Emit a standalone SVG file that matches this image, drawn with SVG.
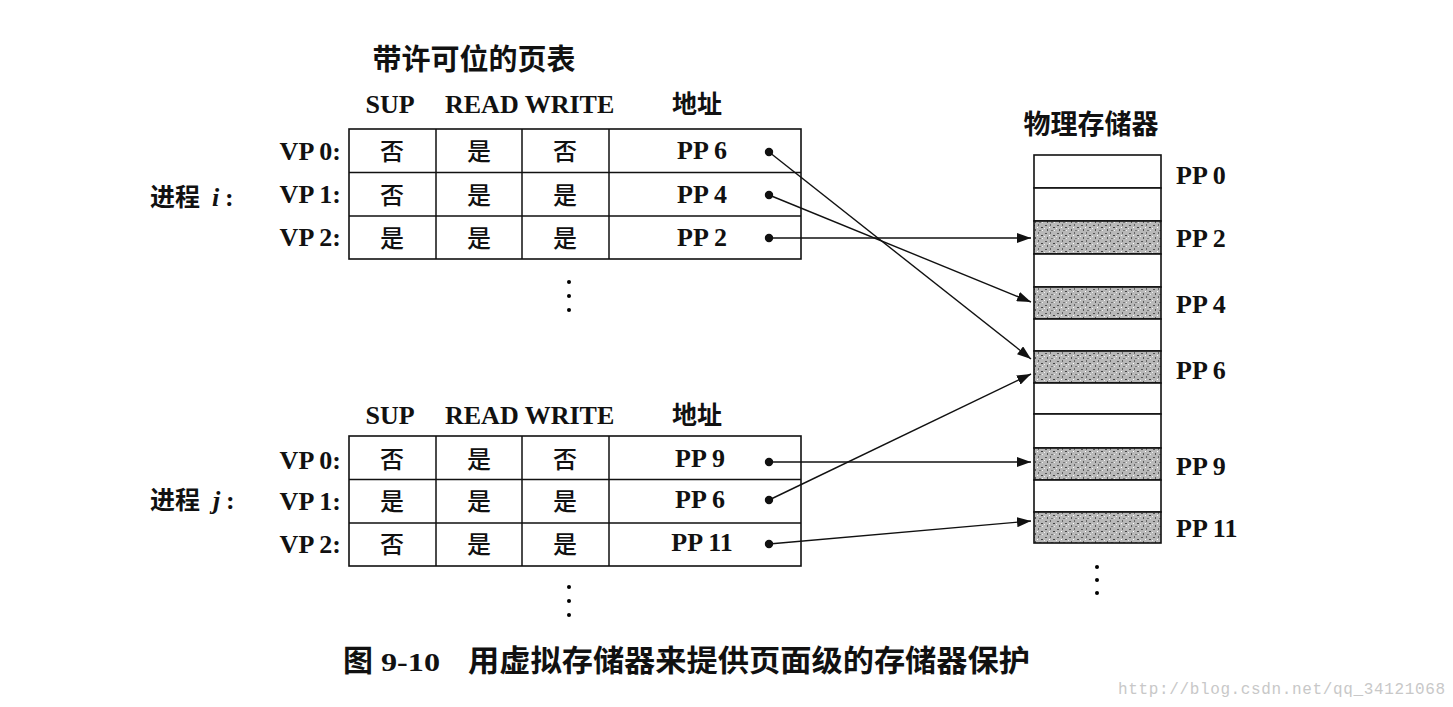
<svg xmlns="http://www.w3.org/2000/svg" width="1453" height="707" viewBox="0 0 1453 707">
<defs>
<style>
.lat{font-family:"Liberation Serif","Times New Roman",serif;font-weight:bold;font-size:26px;fill:#111}
.cjk{font-family:"Noto Sans CJK SC","Noto Sans",sans-serif;font-weight:bold;fill:#111}
.cell{font-family:"Noto Sans CJK SC",sans-serif;font-weight:500;font-size:24px;fill:#111;text-anchor:middle}
.tb{fill:#fff;stroke:#111;stroke-width:1.6}
.ln{stroke:#111;stroke-width:1.5;fill:none}
.mem{fill:#fff;stroke:#111;stroke-width:1.6}
.sh{fill:url(#stip);stroke:#111;stroke-width:1.6}
.wm{font-family:"Liberation Mono",monospace;font-size:16px;fill:#c8c8c8}
</style>
<pattern id="stip" width="12" height="8" patternUnits="userSpaceOnUse">
<rect width="12" height="8" fill="#b8b8b8"/>
<rect x="1" y="1" width="2" height="1" fill="#555"/>
<rect x="6" y="0" width="1" height="2" fill="#666"/>
<rect x="9" y="3" width="2" height="1" fill="#444"/>
<rect x="3" y="5" width="1" height="2" fill="#555"/>
<rect x="7" y="6" width="2" height="1" fill="#777"/>
<rect x="0" y="4" width="1" height="1" fill="#eee"/>
<rect x="5" y="3" width="1" height="1" fill="#fff"/>
<rect x="10" y="6" width="1" height="1" fill="#eee"/>
</pattern>
<marker id="ah" viewBox="0 0 14 10" refX="14" refY="5" markerWidth="14" markerHeight="10" markerUnits="userSpaceOnUse" orient="auto">
<path d="M0,0 L14,5 L0,10 z" fill="#111"/>
</marker>
</defs>
<rect width="1453" height="707" fill="#fff"/>

<text class="cjk" x="474" y="70" font-size="29" text-anchor="middle">带许可位的页表</text>

<g id="table-i">
<text class="lat" x="390" y="113" text-anchor="middle">SUP</text>
<text class="lat" x="445" y="113">READ WRITE</text>
<text class="cjk" x="697" y="113" font-size="25" text-anchor="middle">地址</text>
<rect class="tb" x="349" y="129" width="452" height="130"/>
<path class="ln" d="M349,172.5H801M349,216H801M436,129V259M522,129V259M609,129V259"/>
<text class="lat" x="341" y="160" text-anchor="end">VP 0:</text>
<text class="lat" x="341" y="203" text-anchor="end">VP 1:</text>
<text class="lat" x="341" y="246" text-anchor="end">VP 2:</text>
<text class="cjk" x="150" y="206" font-size="25">进程</text>
<text class="lat" x="212" y="206" font-style="italic">i</text>
<text class="lat" x="225" y="206">:</text>
<text class="cell" x="392" y="160">否</text><text class="cell" x="479" y="160">是</text><text class="cell" x="565" y="160">否</text>
<text class="cell" x="392" y="204">否</text><text class="cell" x="479" y="204">是</text><text class="cell" x="565" y="204">是</text>
<text class="cell" x="392" y="247">是</text><text class="cell" x="479" y="247">是</text><text class="cell" x="565" y="247">是</text>
<text class="lat" x="702" y="159" text-anchor="middle">PP 6</text>
<text class="lat" x="702" y="203" text-anchor="middle">PP 4</text>
<text class="lat" x="702" y="246" text-anchor="middle">PP 2</text>
<circle cx="569" cy="282" r="2"/><circle cx="569" cy="296" r="2"/><circle cx="569" cy="310" r="2"/>
</g>

<g id="table-j">
<text class="lat" x="390" y="424" text-anchor="middle">SUP</text>
<text class="lat" x="445" y="424">READ WRITE</text>
<text class="cjk" x="697" y="424" font-size="25" text-anchor="middle">地址</text>
<rect class="tb" x="349" y="436" width="452" height="130"/>
<path class="ln" d="M349,479.5H801M349,523H801M436,436V566M522,436V566M609,436V566"/>
<text class="lat" x="341" y="469" text-anchor="end">VP 0:</text>
<text class="lat" x="341" y="510" text-anchor="end">VP 1:</text>
<text class="lat" x="341" y="553" text-anchor="end">VP 2:</text>
<text class="cjk" x="150" y="509" font-size="25">进程</text>
<text class="lat" x="213" y="509" font-style="italic">j</text>
<text class="lat" x="226" y="509">:</text>
<text class="cell" x="392" y="468">否</text><text class="cell" x="479" y="468">是</text><text class="cell" x="565" y="468">否</text>
<text class="cell" x="392" y="510">是</text><text class="cell" x="479" y="510">是</text><text class="cell" x="565" y="510">是</text>
<text class="cell" x="392" y="553">否</text><text class="cell" x="479" y="553">是</text><text class="cell" x="565" y="553">是</text>
<text class="lat" x="700" y="467" text-anchor="middle">PP 9</text>
<text class="lat" x="700" y="508" text-anchor="middle">PP 6</text>
<text class="lat" x="702" y="551" text-anchor="middle">PP 11</text>
<circle cx="569" cy="587" r="2"/><circle cx="569" cy="601" r="2"/><circle cx="569" cy="615" r="2"/>
</g>

<g id="memory">
<text class="cjk" x="1091" y="134" font-size="27" text-anchor="middle">物理存储器</text>
<rect class="mem" x="1034" y="155" width="127" height="33"/>
<rect class="mem" x="1034" y="188" width="127" height="33"/>
<rect class="sh" x="1034" y="221" width="127" height="33"/>
<rect class="mem" x="1034" y="254" width="127" height="33"/>
<rect class="sh" x="1034" y="287" width="127" height="32"/>
<rect class="mem" x="1034" y="319" width="127" height="32"/>
<rect class="sh" x="1034" y="351" width="127" height="32"/>
<rect class="mem" x="1034" y="383" width="127" height="31"/>
<rect class="mem" x="1034" y="414" width="127" height="34"/>
<rect class="sh" x="1034" y="448" width="127" height="32"/>
<rect class="mem" x="1034" y="480" width="127" height="32"/>
<rect class="sh" x="1034" y="512" width="127" height="31"/>
<text class="lat" x="1176" y="184">PP 0</text>
<text class="lat" x="1176" y="247">PP 2</text>
<text class="lat" x="1176" y="313">PP 4</text>
<text class="lat" x="1176" y="379">PP 6</text>
<text class="lat" x="1176" y="475">PP 9</text>
<text class="lat" x="1176" y="537">PP 11</text>
<circle cx="1097" cy="567" r="2"/><circle cx="1097" cy="580" r="2"/><circle cx="1097" cy="593" r="2"/>
</g>

<g id="connectors" stroke="#111" stroke-width="1.4" fill="#111">
<circle cx="769" cy="152" r="3.5"/><circle cx="769" cy="195" r="3.5"/><circle cx="769" cy="238" r="3.5"/>
<circle cx="769" cy="462" r="3.5"/><circle cx="769" cy="500" r="3.5"/><circle cx="769" cy="544" r="3.5"/>
<line x1="769" y1="152" x2="1031" y2="359" marker-end="url(#ah)"/>
<line x1="769" y1="195" x2="1031" y2="302" marker-end="url(#ah)"/>
<line x1="769" y1="238" x2="1031" y2="238" marker-end="url(#ah)"/>
<line x1="769" y1="462" x2="1031" y2="462" marker-end="url(#ah)"/>
<line x1="769" y1="500" x2="1031" y2="374" marker-end="url(#ah)"/>
<line x1="769" y1="544" x2="1031" y2="521" marker-end="url(#ah)"/>
</g>

<text class="cjk" x="343" y="671" font-size="30">图</text>
<text class="lat" x="381" y="671" font-size="32" textLength="59" lengthAdjust="spacingAndGlyphs">9-10</text>
<text class="cjk" x="468" y="671" font-size="30" textLength="562" lengthAdjust="spacingAndGlyphs">用虚拟存储器来提供页面级的存储器保护</text>
<text class="wm" x="1118" y="694" textLength="327">http://blog.csdn.net/qq_34121068</text>
</svg>
